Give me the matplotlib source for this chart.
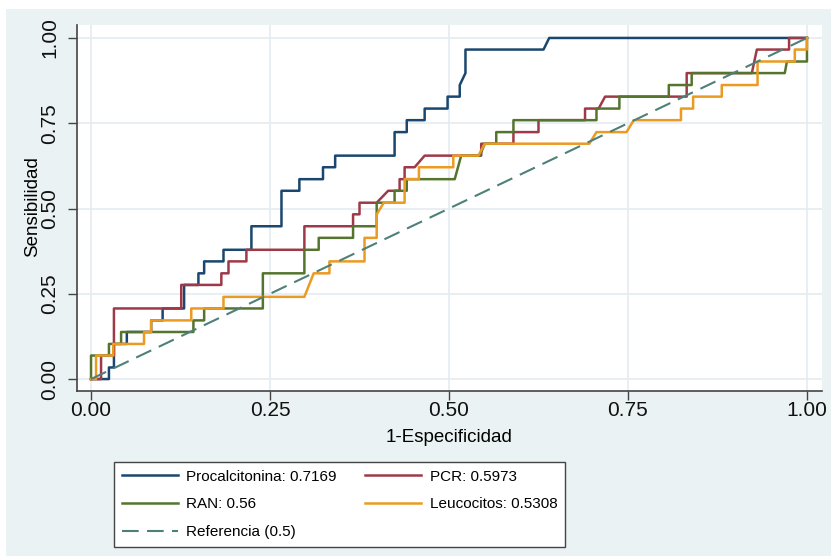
import matplotlib
matplotlib.use('Agg')
import matplotlib.pyplot as plt
from matplotlib import font_manager
from matplotlib.patches import Rectangle
from matplotlib.lines import Line2D

# ROC curves: (1-specificity, sensitivity) vertices
pct_x = [0, 0.025, 0.025, 0.032, 0.032, 0.05, 0.05, 0.084, 0.084, 0.1, 0.1, 0.13, 0.13, 0.15, 0.15,
         0.158, 0.158, 0.185, 0.185, 0.224, 0.224, 0.266, 0.266, 0.291, 0.291, 0.324, 0.324, 0.341,
         0.341, 0.424, 0.424, 0.441, 0.441, 0.466, 0.466, 0.498, 0.498, 0.515, 0.515, 0.523, 0.523,
         0.632, 0.64, 1.0]
pct_y = [0, 0, 0.034, 0.034, 0.103, 0.103, 0.138, 0.138, 0.172, 0.172, 0.207, 0.207, 0.276, 0.276,
         0.31, 0.31, 0.345, 0.345, 0.379, 0.379, 0.448, 0.448, 0.552, 0.552, 0.586, 0.586, 0.621,
         0.621, 0.655, 0.655, 0.724, 0.724, 0.759, 0.759, 0.793, 0.793, 0.828, 0.828, 0.862, 0.897,
         0.966, 0.966, 1.0, 1.0]

pcr_x = [0, 0.014, 0.014, 0.032, 0.032, 0.126, 0.126, 0.182, 0.182, 0.192, 0.192, 0.217, 0.217,
         0.298, 0.298, 0.366, 0.366, 0.375, 0.375, 0.399, 0.415, 0.431, 0.431, 0.438, 0.438, 0.452,
         0.466, 0.545, 0.545, 0.59, 0.59, 0.625, 0.625, 0.69, 0.69, 0.709, 0.718, 0.832, 0.832,
         0.923, 0.93, 0.975, 0.975, 1.0]
pcr_y = [0, 0, 0.069, 0.069, 0.207, 0.207, 0.276, 0.276, 0.31, 0.31, 0.345, 0.345, 0.379, 0.379,
         0.448, 0.448, 0.483, 0.483, 0.517, 0.517, 0.552, 0.552, 0.586, 0.586, 0.621, 0.621, 0.655,
         0.655, 0.69, 0.69, 0.724, 0.724, 0.759, 0.759, 0.793, 0.793, 0.828, 0.828, 0.897, 0.897,
         0.966, 0.966, 1.0, 1.0]

ran_x = [0, 0, 0.025, 0.025, 0.042, 0.042, 0.143, 0.143, 0.158, 0.158, 0.24, 0.24, 0.298, 0.298,
         0.318, 0.318, 0.366, 0.366, 0.399, 0.399, 0.424, 0.424, 0.441, 0.441, 0.508, 0.517, 0.543,
         0.55, 0.566, 0.566, 0.59, 0.59, 0.706, 0.706, 0.738, 0.738, 0.807, 0.807, 0.839, 0.839,
         0.969, 0.972, 1.0, 1.0]
ran_y = [0, 0.069, 0.069, 0.103, 0.103, 0.138, 0.138, 0.172, 0.172, 0.207, 0.207, 0.31, 0.31,
         0.379, 0.379, 0.414, 0.414, 0.448, 0.448, 0.517, 0.517, 0.552, 0.552, 0.586, 0.586, 0.655,
         0.655, 0.69, 0.69, 0.724, 0.724, 0.759, 0.759, 0.793, 0.793, 0.828, 0.828, 0.862, 0.862,
         0.897, 0.897, 0.931, 0.931, 1.0]

leu_x = [0, 0.007, 0.007, 0.031, 0.031, 0.074, 0.074, 0.084, 0.084, 0.14, 0.14, 0.185, 0.185,
         0.298, 0.311, 0.333, 0.333, 0.382, 0.382, 0.399, 0.399, 0.409, 0.438, 0.438, 0.458, 0.458,
         0.506, 0.506, 0.541, 0.55, 0.696, 0.706, 0.748, 0.758, 0.824, 0.824, 0.841, 0.841, 0.881,
         0.881, 0.931, 0.931, 0.983, 0.983, 1.0, 1.0]
leu_y = [0, 0, 0.069, 0.069, 0.103, 0.103, 0.138, 0.138, 0.172, 0.172, 0.207, 0.207, 0.241, 0.241,
         0.31, 0.31, 0.345, 0.345, 0.414, 0.414, 0.483, 0.517, 0.517, 0.586, 0.586, 0.621, 0.621,
         0.655, 0.655, 0.69, 0.69, 0.724, 0.724, 0.759, 0.759, 0.793, 0.793, 0.828, 0.828, 0.862,
         0.862, 0.931, 0.931, 0.966, 0.966, 1.0]

ref_x = [0, 1]
ref_y = [0, 1]

labels = ['Procalcitonina: 0.7169', 'PCR: 0.5973', 'RAN: 0.56', 'Leucocitos: 0.5308', 'Referencia (0.5)']
colors = ['#1a476f', '#9e3a48', '#55752f', '#eb9a22', '#4e8079']
ticks = [0, 0.25, 0.5, 0.75, 1.0]
tick_labels = ['0.00', '0.25', '0.50', '0.75', '1.00']

names = {f.name for f in font_manager.fontManager.ttflist}
family = 'Liberation Sans Narrow' if 'Liberation Sans Narrow' in names else 'Liberation Sans'
plt.rcParams['font.family'] = family

W, H = 831, 556
fig = plt.figure(figsize=(W / 100, H / 100), dpi=100, facecolor='white')
fig.patches.append(Rectangle((6 / W, 0), 1, 1 - 9 / H, transform=fig.transFigure,
                             facecolor='#eaf2f3', edgecolor='none', zorder=-10))

ax = fig.add_axes([77 / W, 1 - 391 / H, (822 - 77) / W, (391 - 25) / H])
ax.set_facecolor('white')

lw = 1.8
ax.plot(pct_x, pct_y, color=colors[0], lw=lw, zorder=3)
ax.plot(pcr_x, pcr_y, color=colors[1], lw=lw, zorder=4)
ax.plot(ran_x, ran_y, color=colors[2], lw=lw, zorder=5)
ax.plot(leu_x, leu_y, color=colors[3], lw=lw, zorder=6)
ax.plot(ref_x, ref_y, color=colors[4], lw=1.5, dashes=(8, 4), zorder=7)

ax.set_xlim(-0.0196, 1.021)
ax.set_ylim(-0.035, 1.038)
ax.set_xticks(ticks)
ax.set_xticklabels(tick_labels)
ax.set_yticks(ticks)
ax.set_yticklabels(tick_labels, rotation=90, va='center')
ax.grid(True, color='#e6edf0', lw=1.3, zorder=0)
ax.set_axisbelow(True)

for s in ['top', 'right']:
    ax.spines[s].set_visible(False)
for s in ['left', 'bottom']:
    ax.spines[s].set_color('#444444')
    ax.spines[s].set_linewidth(1.2)
ax.tick_params(direction='out', length=6.5, width=1, color='#444444', labelsize=15,
               labelcolor='#111111')
ax.tick_params(axis='x', pad=0.5)
ax.tick_params(axis='y', pad=6.5)

fig.text(449 / W, 1 - 437 / H, '1-Especificidad', ha='center', va='center', fontsize=13.5)
fig.text(33 / W, 1 - 207 / H, 'Sensibilidad', ha='center', va='center', rotation=90, fontsize=13.5)

handles = [Line2D([], [], color=c, lw=lw) for c in colors[:4]]
handles.append(Line2D([], [], color=colors[4], lw=1.5, dashes=(8, 4)))
order = [0, 2, 4, 1, 3]
leg = fig.legend([handles[i] for i in order], [labels[i] for i in order],
                 loc='upper left', bbox_to_anchor=(114 / W, 1 - 462 / H), ncol=2,
                 fontsize=11, frameon=True, fancybox=False, framealpha=1, edgecolor='#444444',
                 handlelength=3.66, handletextpad=0.55, columnspacing=1.9, borderpad=0.5,
                 labelspacing=0.9, borderaxespad=0)
leg.get_frame().set_linewidth(1.0)

fig.savefig('out.png', dpi=100, facecolor=fig.get_facecolor())
